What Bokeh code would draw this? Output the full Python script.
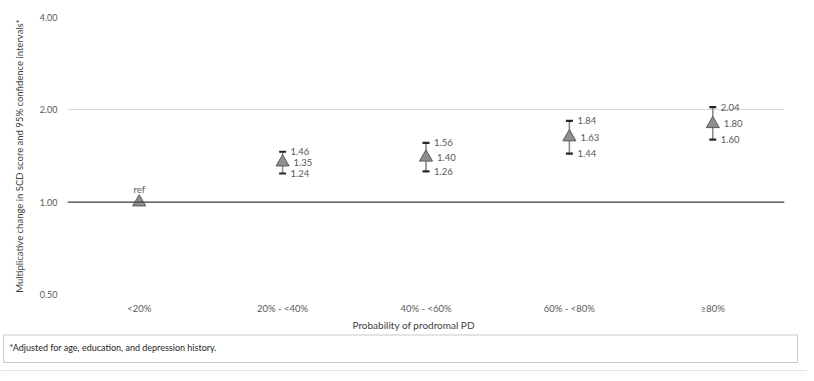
from bokeh.plotting import figure
from bokeh.models import (ColumnDataSource, Whisker, TeeHead, Span, FixedTicker,
                          Range1d, NumeralTickFormatter, Title)
from bokeh.layouts import column
from bokeh.embed import file_html
from bokeh.resources import INLINE
from bokeh.core.properties import value

# Multiplicative change in SCD score by probability of prodromal PD
categories = ["<20%", "20% - <40%", "40% - <60%", "60% - <80%", "≥80%"]
estimate = [1.00, 1.35, 1.40, 1.63, 1.80]
ci_lower = [None, 1.24, 1.26, 1.44, 1.60]
ci_upper = [None, 1.46, 1.56, 1.84, 2.04]
y_ticks = [0.5, 1.0, 2.0, 4.0]
y_title = "Multiplicative change in SCD score and 95% confidence intervals*"
x_title = "Probability of prodromal PD"
footnote = "*Adjusted for age, education, and depression history."

FONT = "Lato"
TXT = "#595959"

W = 814


def blank(h, y_max):
    f = figure(width=W, height=h, x_range=Range1d(0, W), y_range=Range1d(y_max, 0),
               output_backend="svg", toolbar_location=None, min_border=0,
               frame_align=False)
    f.axis.visible = False
    f.grid.visible = False
    f.outline_line_color = None
    return f


# thin rule across the top
top = blank(8, 8)
top.segment(x0=[0], y0=[5], x1=[806], y1=[5], line_color="#e3e3e3", line_width=1.2)

# main chart
p = figure(width=W, height=325, x_range=categories, y_axis_type="log",
           y_range=Range1d(0.5, 4.0), output_backend="svg", toolbar_location=None,
           min_border_left=67, min_border_right=30, min_border_top=9,
           min_border_bottom=39, frame_align=False)
p.outline_line_color = None
p.xgrid.visible = False
p.ygrid.grid_line_color = "#d9d9d9"
p.ygrid.grid_line_width = 1

p.yaxis.ticker = FixedTicker(ticks=y_ticks)
p.yaxis.formatter = NumeralTickFormatter(format="0.00")
p.yaxis.axis_line_color = None
p.yaxis.major_tick_line_color = None
p.yaxis.major_tick_out = 0
p.yaxis.minor_tick_line_color = None
p.yaxis.minor_tick_out = 0
p.yaxis.major_label_standoff = 10
p.yaxis.major_label_text_font = FONT
p.yaxis.major_label_text_font_size = "9px"
p.yaxis.major_label_text_color = TXT
p.yaxis.axis_label = y_title
p.yaxis.axis_label_text_font = FONT
p.yaxis.axis_label_text_font_size = "9.5px"
p.yaxis.axis_label_text_font_style = "normal"
p.yaxis.axis_label_text_color = "#404040"
p.yaxis.axis_label_standoff = 12

p.xaxis.axis_line_color = None
p.xaxis.major_tick_line_color = None
p.xaxis.major_tick_out = 0
p.xaxis.major_label_standoff = 8
p.xaxis.major_label_text_font = FONT
p.xaxis.major_label_text_font_size = "9.5px"
p.xaxis.major_label_text_color = TXT

# x-axis title, set a little left of centre
p.add_layout(Title(text=x_title, align="left", offset=285, standoff=0,
                   text_font=FONT, text_font_size="10px", text_font_style="normal",
                   text_color="#404040"), "below")

# reference line at 1.00
p.add_layout(Span(location=1.0, dimension="width", line_color="#404040", line_width=1.3))

ci_idx = [i for i, v in enumerate(ci_lower) if v is not None]
ci_src = ColumnDataSource(dict(
    x=[categories[i] for i in ci_idx],
    lower=[ci_lower[i] for i in ci_idx],
    upper=[ci_upper[i] for i in ci_idx],
    mid=[estimate[i] for i in ci_idx],
    lower_txt=[f"{ci_lower[i]:.2f}" for i in ci_idx],
    upper_txt=[f"{ci_upper[i]:.2f}" for i in ci_idx],
    mid_txt=[f"{estimate[i]:.2f}" for i in ci_idx],
))

whisk = Whisker(base="x", lower="lower", upper="upper", source=ci_src,
                line_color="#8c8c8c", line_width=1.6,
                upper_head=TeeHead(size=7, line_color="#262626", line_width=2.2),
                lower_head=TeeHead(size=7, line_color="#262626", line_width=2.2))
p.add_layout(whisk)

pt_src = ColumnDataSource(dict(x=categories, y=estimate))
p.scatter("x", "y", source=pt_src, marker="triangle", size=13,
          fill_color="#8f8f8f", line_color="#5a5a5a", line_width=1)

lab_kw = dict(text_font=value(FONT), text_font_size="9.5px", text_color=TXT,
              text_baseline="middle", text_align="left")
p.text("x", "upper", text="upper_txt", source=ci_src, x_offset=8, **lab_kw)
p.text("x", "mid", text="mid_txt", source=ci_src, x_offset=11, **lab_kw)
p.text("x", "lower", text="lower_txt", source=ci_src, x_offset=8, **lab_kw)

p.text(x=[categories[0]], y=[estimate[0]], text=["ref"], y_offset=-13,
       text_font=value(FONT), text_font_size="9.5px", text_color=TXT,
       text_baseline="middle", text_align="center")

# footnote panel
bot = blank(48, 48)
bot.quad(left=[3], right=[797], top=[1.5], bottom=[29], fill_color="white",
         line_color="#c8c8c8", line_width=1)
bot.text(x=[9], y=[13.5], text=[footnote], text_font=value(FONT),
         text_font_size="9px", text_color="#262626", text_baseline="middle")
bot.segment(x0=[0], y0=[37], x1=[806], y1=[37], line_color="#e3e3e3", line_width=1.2)

layout = column(top, p, bot, spacing=0)
open("out.html", "w").write(file_html(layout, INLINE))
